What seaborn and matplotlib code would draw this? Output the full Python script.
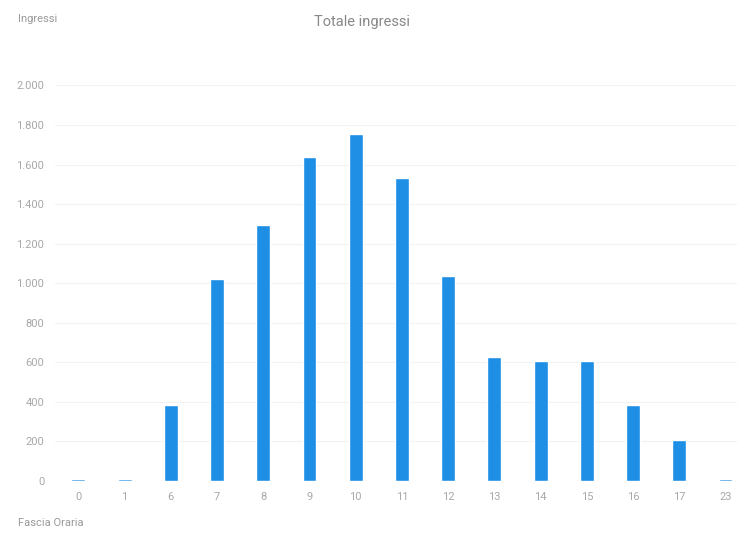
import pandas as pd
import seaborn as sns
import matplotlib.pyplot as plt
from matplotlib.ticker import FuncFormatter

BAR_COLOUR = '#1f8fe6'
TEXT_COLOUR = '#a8a8a8'

hours = ['0', '1', '6', '7', '8', '9', '10', '11', '12', '13', '14', '15', '16', '17', '23']
ingressi = [8, 8, 385, 1020, 1295, 1640, 1755, 1530, 1035, 625, 605, 605, 385, 205, 8]

df = pd.DataFrame({'Fascia Oraria': hours, 'Ingressi': ingressi})

sns.set_theme(style='white', rc={'axes.facecolor': 'white', 'figure.facecolor': 'white'})
plt.rcParams['font.family'] = ['Roboto', 'DejaVu Sans']

fig = plt.figure(figsize=(7.37, 5.33), dpi=100)
ax = fig.add_axes([0.075, 0.0976, 0.925, 0.742])

sns.barplot(
    data=df, x='Fascia Oraria', y='Ingressi', order=hours,
    color=BAR_COLOUR, saturation=1, width=0.3, ax=ax
)

ax.set_ylim(0, 2000)
ax.set_xlim(-0.5, 14.25)
ax.set_yticks(range(0, 2001, 200))
ax.yaxis.set_major_formatter(
    FuncFormatter(lambda v, _: '{:,.0f}'.format(v).replace(',', '.'))
)
ax.grid(axis='y', color='#f2f2f2', lw=0.8)
ax.set_axisbelow(True)
sns.despine(ax=ax, left=True, bottom=True)
ax.tick_params(axis='both', length=0, labelsize=8, colors=TEXT_COLOUR, pad=8)
ax.set_xlabel('')
ax.set_ylabel('')

fig.text(0.025, 0.965, 'Ingressi', fontsize=8, color='#999999', ha='left', va='center')
fig.text(0.491, 0.958, 'Totale ingressi', fontsize=10.5, color='#888888', ha='center', va='center')
fig.text(0.025, 0.018, 'Fascia Oraria', fontsize=8, color='#999999', ha='left', va='center')

plt.savefig('out.png', dpi=100, facecolor='white')
